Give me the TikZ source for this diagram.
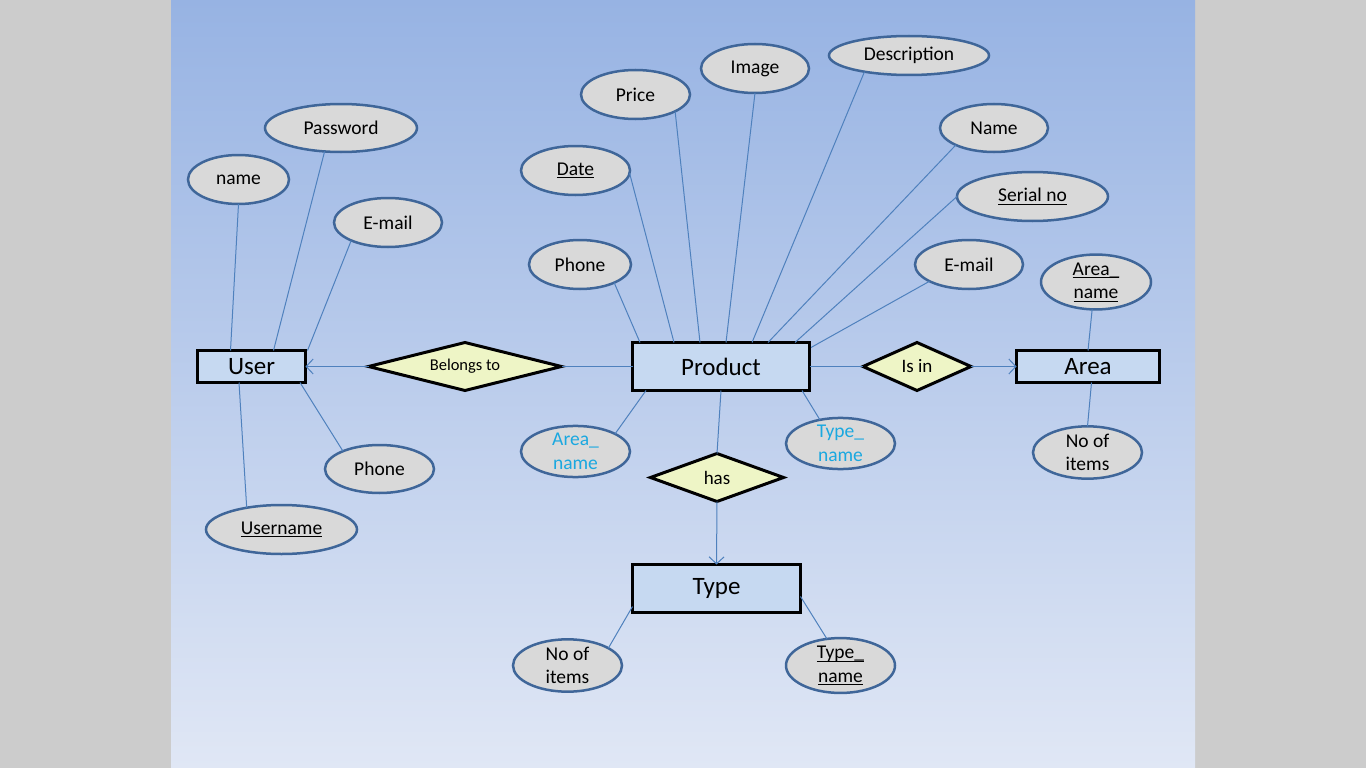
\documentclass[tikz,border=0pt]{standalone}
\usepackage{fontspec}
\setmainfont{Carlito}
\usetikzlibrary{shapes.geometric,arrows.meta}
\definecolor{bgtop}{HTML}{97B3E3}
\definecolor{bgbot}{HTML}{E0E7F5}
\definecolor{sidecol}{HTML}{CCCCCC}
\definecolor{attrfill}{HTML}{D9D9D9}
\definecolor{attrline}{HTML}{3F6699}
\definecolor{entfill}{HTML}{C6D9F1}
\definecolor{relfill}{HTML}{EEF5C6}
\definecolor{conncol}{HTML}{4F81BD}
\definecolor{cyantext}{HTML}{1AA8E0}
\newcommand\myul[1]{\setbox0\hbox{#1}\rlap{\rule[-2.8pt]{\wd0}{0.9pt}}\box0}
\begin{document}
\begin{tikzpicture}[x=1pt,y=-1pt,
  attr/.style={ellipse, draw=attrline, line width=2.5pt, fill=attrfill, inner sep=0pt, outer sep=0pt, align=center, font=\fontsize{19.5}{23.5}\selectfont},
  ent/.style={rectangle, draw=black, line width=3pt, fill=entfill, inner sep=0pt, outer sep=0pt, font=\fontsize{25}{29}\selectfont},
  rel/.style={diamond, aspect=4, draw=black, line width=3pt, fill=relfill, inner sep=0pt, outer sep=0pt, font=\fontsize{19}{23}\selectfont},
  conn/.style={draw=conncol, line width=1pt},
  arr/.style={conn, -{Straight Barb[length=7pt,width=15pt]}},
]
\useasboundingbox (0,0) rectangle (1366,768);
\fill[sidecol] (0,0) rectangle (1366,768);
\shade[top color=bgtop, bottom color=bgbot] (171,0) rectangle (1195,768);

% entities
\node[ent, minimum width=108pt, minimum height=32pt] (user) at (251.5,366.5) {User};
\node[ent, minimum width=177pt, minimum height=48pt] (product) at (721,366.5) {Product};
\node[ent, minimum width=143pt, minimum height=32pt] (area) at (1088,366.5) {Area};
\node[ent, minimum width=168pt, minimum height=48pt] (type) at (716.5,588.5) {Type};

% relationships
\node[rel, minimum width=193pt, minimum height=48pt, font=\fontsize{16.5}{20}\selectfont] (belongs) at (465,366.5) {Belongs to};
\node[rel, aspect=2, minimum width=108pt, minimum height=48pt] (isin) at (917,366.5) {Is in};
\node[rel, aspect=2, minimum width=133pt, minimum height=48pt] (has) at (717,477.5) {has};

% user attributes
\node[attr, minimum width=152pt, minimum height=48pt] (pw) at (341,128) {Password};
\node[attr, minimum width=101pt, minimum height=49pt] (uname) at (238.5,179.5) {name};
\node[attr, minimum width=108pt, minimum height=49pt] (uemail) at (388,222.5) {E-mail};
\node[attr, minimum width=109pt, minimum height=48pt] (uphone) at (379.5,469) {Phone};
\node[attr, minimum width=151pt, minimum height=49pt] (usern) at (281.5,529.5) {\myul{Username}};

% product attributes
\node[attr, minimum width=109pt, minimum height=49pt] (date) at (575.5,170.5) {\myul{Date}};
\node[attr, minimum width=109pt, minimum height=49pt] (price) at (635.5,94.5) {Price};
\node[attr, minimum width=108pt, minimum height=49pt] (image) at (755,68.5) {Image};
\node[attr, minimum width=160pt, minimum height=39pt] (desc) at (909,55.5) {Description};
\node[attr, minimum width=108pt, minimum height=48pt] (pname) at (994,128) {Name};
\node[attr, minimum width=151pt, minimum height=49pt] (serial) at (1032.5,196.5) {\myul{Serial no}};
\node[attr, minimum width=108pt, minimum height=49pt] (pemail) at (969,264.5) {E-mail};
\node[attr, minimum width=102pt, minimum height=49pt] (pphone) at (580,264.5) {Phone};
\node[attr, minimum width=109pt, minimum height=49pt, text=cyantext] (parea) at (575.5,451.5) {Area\_\\name};
\node[attr, minimum width=109pt, minimum height=49pt, text=cyantext] (ptype) at (840.5,443.5) {Type\_\\name};

% area attributes
\node[attr, minimum width=110pt, minimum height=48pt] (aarea) at (1096,282) {\myul{Area\_}\\\myul{name}};
\node[attr, minimum width=109pt, minimum height=49pt] (aitems) at (1087.5,452.5) {No of\\items};

% type attributes
\node[attr, minimum width=109pt, minimum height=49pt] (titems) at (567.5,665.5) {No of\\items};
\node[attr, minimum width=109pt, minimum height=49pt] (ttype) at (840.5,665.5) {\myul{Type\_}\\\myul{name}};

% user connectors
\draw[conn] (uname.south) -- ([xshift=-21pt]user.north);
\draw[conn] (pw.235) -- ([xshift=22pt]user.north);
\draw[conn] (uemail.206) -- ([xshift=2pt]user.north east);
\draw[conn] ([xshift=-12.5pt]user.south) -- (usern.148.5);
\draw[conn] ([xshift=48.5pt]user.south) -- (uphone.154);

% product connectors
\draw[conn] (pphone.332) -- ([xshift=-81pt]product.north);
\draw[conn] (date.357) -- ([xshift=-47pt]product.north);
\draw[conn] (price.337) -- ([xshift=-21pt]product.north);
\draw[conn] (image.south) -- ([xshift=5pt]product.north);
\draw[conn] (desc.200) -- ([xshift=31pt]product.north);
\draw[conn] (pname.204) -- ([xshift=47pt]product.north);
\draw[conn] (serial.west) -- ([xshift=74pt]product.north);
\draw[conn] (pemail.203) -- ([yshift=19pt,xshift=1.5pt]product.east);
\draw[conn] ([xshift=-75pt]product.south) -- (parea.24);
\draw[conn] (product.south) -- (has.north);
\draw[conn] ([xshift=81pt]product.south) -- (ptype.131);

% relationship connectors
\draw[conn] (product.west) -- (belongs.east);
\draw[arr] (belongs.west) -- (user.east);
\draw[conn] (product.east) -- (isin.west);
\draw[arr] (isin.east) -- (area.west);
\draw[arr] (has.south) -- (type.north);

% area connectors
\draw[conn] (area.north) -- (aarea.262);
\draw[conn] ([xshift=3.5pt]area.south) -- (aitems.north);

% type connectors
\draw[conn] ([yshift=-18pt]type.west) -- (titems.23);
\draw[conn] ([yshift=-8pt]type.east) -- (ttype.117);
\end{tikzpicture}
\end{document}
